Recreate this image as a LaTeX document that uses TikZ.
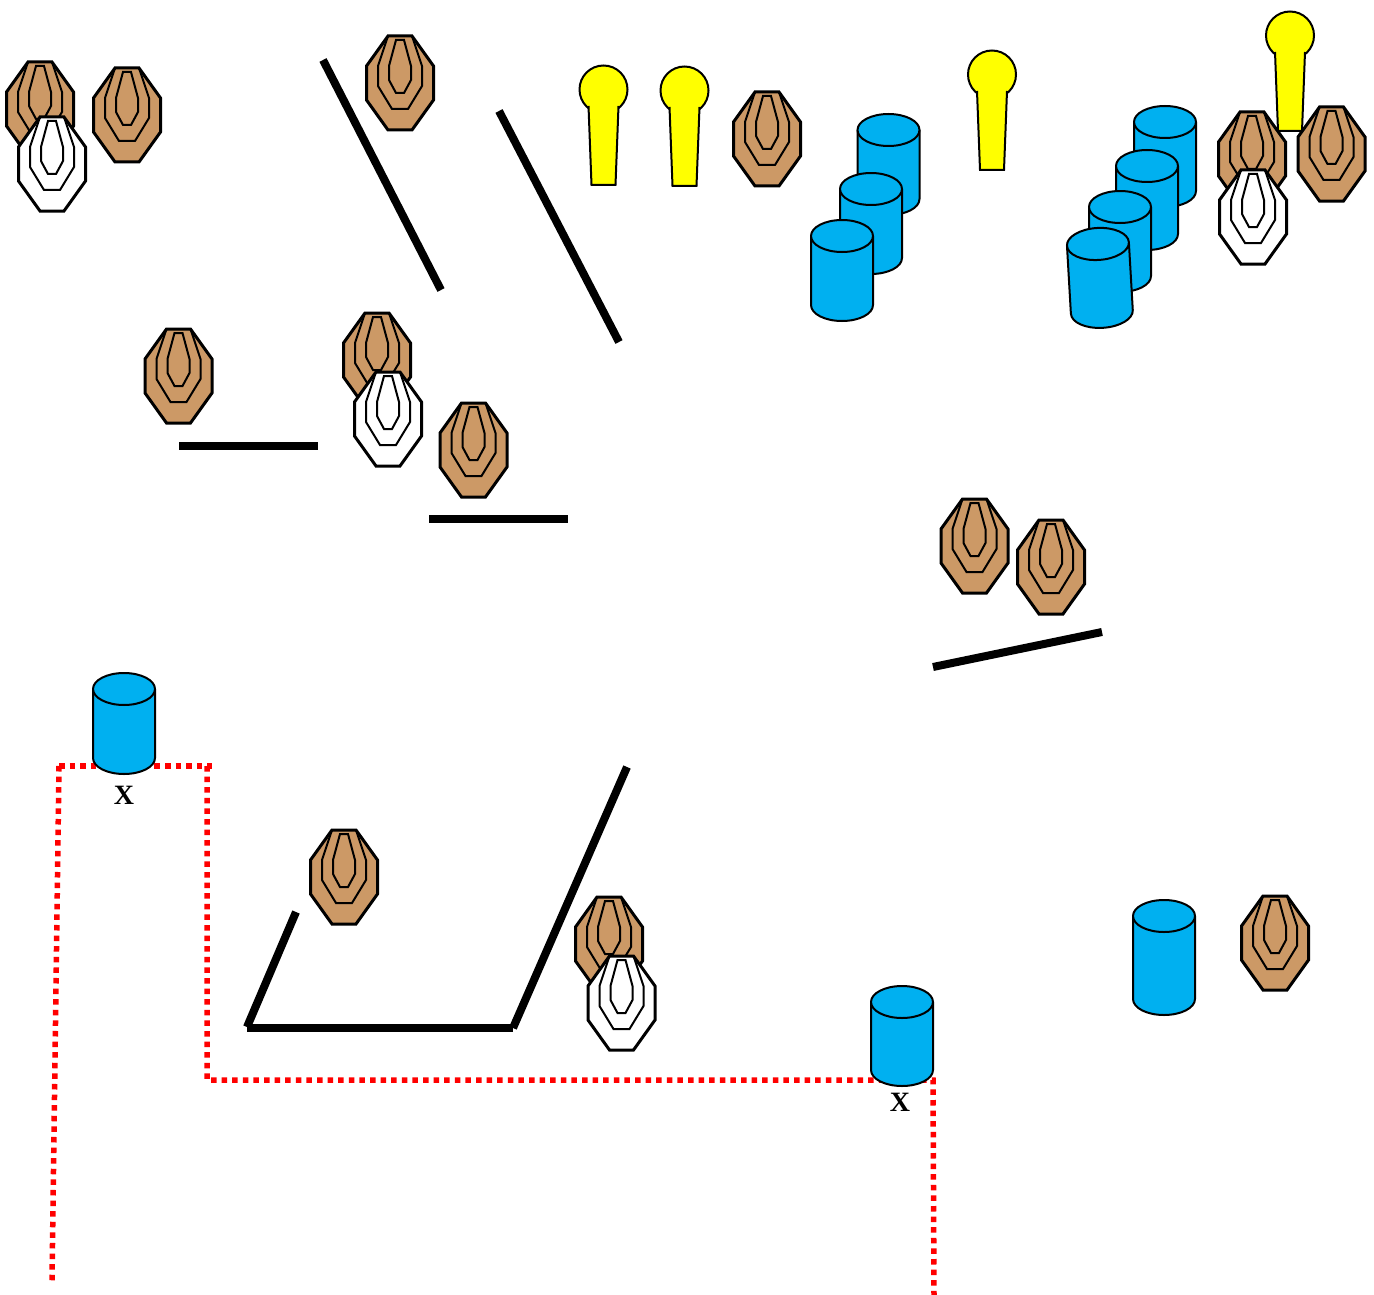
\documentclass[tikz,border=0pt]{standalone}
\usepackage{fontspec}
\setmainfont{Liberation Serif}
\definecolor{tan}{HTML}{CC9966}
\definecolor{cyl}{HTML}{00B0F0}
\definecolor{pop}{HTML}{FFFF00}
\definecolor{tapered}{HTML}{FF0000}
\tikzset{
  wall/.style={line width=8pt,black},
  tape/.style={line width=5.5pt,tapered,dash pattern=on 5.5pt off 5.1pt},
  outerring/.style={line width=3pt,line join=miter},
  innerring/.style={line width=2pt,line join=miter},
  cylline/.style={line width=2pt,fill=cyl,line join=round},
  pinline/.style={line width=2pt},
  mark label/.style={font=\bfseries\fontsize{28}{28}\selectfont,inner sep=0pt}
}
\newcommand{\targetshape}[3]{%
  \begin{scope}[shift={(#1,#2)}]
    \draw[outerring,fill=#3] (-12,-47) -- (12,-47) -- (33.5,-17) -- (33.5,17) -- (12,47) -- (-12,47) -- (-33.5,17) -- (-33.5,-17) -- cycle;
    \draw[innerring] (-12,-47) -- (-22,-17) -- (-22,3) -- (-8,26) -- (8,26) -- (22,3) -- (22,-17) -- (12,-47);
    \draw[innerring] (-4,-43) -- (4,-43) -- (11,-17) -- (11,-3) -- (4,10) -- (-4,10) -- (-11,-3) -- (-11,-17) -- cycle;
  \end{scope}}
\newcommand{\barrelbody}[1]{%
  \draw[cylline] (-31,16) -- (-31,#1-16) .. controls (-31,#1-7) and (-17,#1) .. (0,#1) .. controls (17,#1) and (31,#1-7) .. (31,#1-16) -- (31,16) -- cycle;
  \draw[cylline] (0,16) ellipse [x radius=31,y radius=16];}
\newcommand{\barrel}[3]{\begin{scope}[shift={(#1,#2)}]\barrelbody{#3}\end{scope}}
\newcommand{\popper}[2]{%
  \begin{scope}[shift={(#1,#2)}]
    \draw[pinline,fill=pop] (0,1.5) circle [radius=24];
    \fill[pop] (-15,18) -- (15,18) -- (12,97) -- (-12,97) -- cycle;
    \draw[pinline,line join=miter] (-15,18) -- (-12,97) -- (12,97) -- (15,18);
  \end{scope}}
\begin{document}
\begin{tikzpicture}[x=1pt,y=-1pt]
\useasboundingbox (0,0) rectangle (1374,1295);
% tape
\draw[tape] (59,766) -- (212,766);
\draw[tape] (59,766) -- (52,1281);
\draw[tape] (207,766) -- (207,1080) -- (933,1080) -- (934,1295);
% walls
\draw[wall] (323,60) -- (441,290);
\draw[wall] (499,111) -- (619,342);
\draw[wall] (179,446) -- (318,446);
\draw[wall] (429,519) -- (568,519);
\draw[wall] (933,667) -- (1102,632);
\draw[wall] (296,912) -- (247,1027);
\draw[wall] (247,1028) -- (513,1028);
\draw[wall] (513,1028) -- (627,767);
% poppers
\popper{603.5}{88}
\popper{684.5}{89}
\popper{992}{73}
\popper{1290}{34}
% barrels
\barrel{888.5}{114}{101}
\barrel{871}{173}{101}
\barrel{842}{220}{101}
\barrel{1165}{106}{101}
\barrel{1147}{150}{100}
\barrel{1120}{191}{101}
\begin{scope}[shift={(1097,228)},rotate=3.3]\barrelbody{100}\end{scope}
\barrel{124}{673}{101}
\barrel{902}{986}{100}
\barrel{1164}{900}{115}
% targets
\targetshape{40}{109}{tan}
\targetshape{52}{164}{white}
\targetshape{127}{115}{tan}
\targetshape{400}{83}{tan}
\targetshape{767}{139}{tan}
\targetshape{1252}{159}{tan}
\targetshape{1253}{217}{white}
\targetshape{1331.5}{154}{tan}
\targetshape{178.5}{376}{tan}
\targetshape{377}{360}{tan}
\targetshape{388}{419}{white}
\targetshape{473.5}{450}{tan}
\targetshape{974.5}{546}{tan}
\targetshape{1051}{567}{tan}
\targetshape{344}{877}{tan}
\targetshape{609}{944}{tan}
\targetshape{621.5}{1003}{white}
\targetshape{1275}{943}{tan}
% labels
\node[mark label] (xa) at (124,795) {X};
\node[mark label] (xb) at (900,1102) {X};
\end{tikzpicture}
\end{document}
